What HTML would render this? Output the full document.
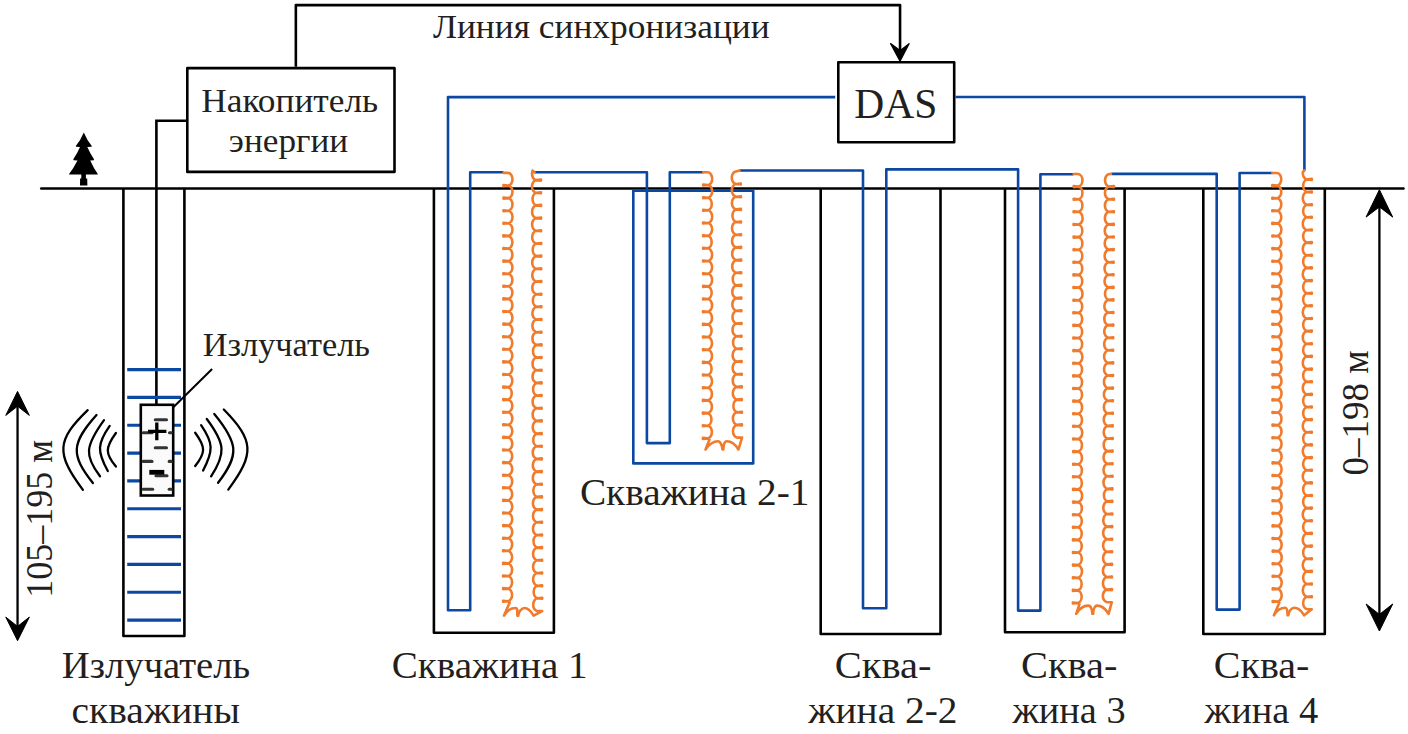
<!DOCTYPE html>
<html><head><meta charset="utf-8"><style>
html,body{margin:0;padding:0;background:#fff;width:1408px;height:734px;overflow:hidden}
svg{display:block}
text{font-family:"Liberation Serif",serif}
</style></head><body>
<svg width="1408" height="734" viewBox="0 0 1408 734">
<path d="M41.2 188.4 H1403.5" stroke="#000" stroke-width="2.5" stroke-linecap="round" fill="none"/>
<path d="M83.8 132.4 Q86.9 139.9 91.8 146.1 L91.6 146.8 L87.3 147 Q90.2 153.6 94 159.2 L93.8 160.2 L90.2 160.5 Q93.5 167.8 97.8 174 L97.6 174.6 L85.9 174.6 L85.9 178.6 L87.2 178.6 L87.4 185.4 L80 185.4 L80.1 178.6 L81.3 178.6 L81.3 174.6 L69.2 174.6 L69.1 174 Q73.8 167.8 77.5 160.5 L73.5 160.2 L73.3 159.2 Q77.2 153.6 80 147 L76 146.8 L75.8 146.1 Q80.7 139.9 83.8 132.4 Z" fill="#000"/>
<path d="M123.4 188.4 V636.0 H184.4 V188.4" stroke="#000" stroke-width="2.6" fill="none" stroke-linejoin="round"/>
<path d="M433.9 188.4 V632.8 H553.9 V188.4" stroke="#000" stroke-width="2.6" fill="none" stroke-linejoin="round"/>
<path d="M820.7 188.4 V634.0 H940.5 V188.4" stroke="#000" stroke-width="2.6" fill="none" stroke-linejoin="round"/>
<path d="M1005.0 188.4 V632.2 H1124.6 V188.4" stroke="#000" stroke-width="2.6" fill="none" stroke-linejoin="round"/>
<path d="M1203.3 188.4 V634.0 H1324.8 V188.4" stroke="#000" stroke-width="2.6" fill="none" stroke-linejoin="round"/>
<rect x="187.3" y="68.1" width="207.2" height="103.8" stroke="#000" stroke-width="2.6" fill="#fff" stroke-linejoin="round"/>
<rect x="838.3" y="62.2" width="115.9" height="80.1" stroke="#000" stroke-width="2.6" fill="#fff" stroke-linejoin="round"/>
<path d="M295.85 66.8 V5.1 H900.05 V52" stroke="#000" stroke-width="2.6" fill="none" stroke-linejoin="round"/>
<path d="M900.05 61.1 L890.6 43.6 L900.05 50.6 L909.1 43.6 Z" fill="#000" stroke="#000" stroke-width="1.2" stroke-linejoin="round"/>
<path d="M186.4 120.8 H156.4 V404.4" stroke="#000" stroke-width="2.6" fill="none"/>
<path d="M127.2 369.60 H181" stroke="#0c48a2" stroke-width="3.2"/>
<path d="M127.2 397.43 H181" stroke="#0c48a2" stroke-width="3.2"/>
<path d="M127.2 425.26 H181" stroke="#0c48a2" stroke-width="3.2"/>
<path d="M127.2 453.09 H181" stroke="#0c48a2" stroke-width="3.2"/>
<path d="M127.2 480.92 H181" stroke="#0c48a2" stroke-width="3.2"/>
<path d="M127.2 508.75 H181" stroke="#0c48a2" stroke-width="3.2"/>
<path d="M127.2 536.58 H181" stroke="#0c48a2" stroke-width="3.2"/>
<path d="M127.2 564.41 H181" stroke="#0c48a2" stroke-width="3.2"/>
<path d="M127.2 592.24 H181" stroke="#0c48a2" stroke-width="3.2"/>
<path d="M127.2 620.07 H181" stroke="#0c48a2" stroke-width="3.2"/>
<rect x="140.8" y="404.8" width="32.4" height="90.7" stroke="#000" stroke-width="2.6" fill="#fafafa"/>
<path d="M155.3 419.8 H166.5" stroke="#333" stroke-width="3.1" stroke-linecap="round"/>
<path d="M155.3 447.7 H166.5" stroke="#333" stroke-width="3.1" stroke-linecap="round"/>
<path d="M143.2 461.4 H152" stroke="#333" stroke-width="3.1" stroke-linecap="round"/>
<path d="M169.2 461.4 H171.2" stroke="#333" stroke-width="3.1" stroke-linecap="round"/>
<path d="M143.2 489.3 H152.7" stroke="#333" stroke-width="3.1" stroke-linecap="round"/>
<path d="M169.2 489.3 H171.2" stroke="#333" stroke-width="3.1" stroke-linecap="round"/>
<path d="M143.2 432.7 H152" stroke="#333" stroke-width="3.1" stroke-linecap="round"/>
<path d="M169.5 432.7 H171.2" stroke="#333" stroke-width="3.1" stroke-linecap="round"/>
<path d="M156 475.7 H167" stroke="#333" stroke-width="3.1" stroke-linecap="round"/>
<path d="M148 431.4 H166.4 M156.8 422.5 V440.2" stroke="#000" stroke-width="3.3"/>
<path d="M149.3 472.3 H164.3" stroke="#000" stroke-width="4.8"/>
<path d="M173.6 407 L212.1 369" stroke="#000" stroke-width="2"/>
<path d="M87.7 410.2 C56.50 440.27 55.70 453.56 82.9 489.9" stroke="#000" stroke-width="2.3" fill="none" stroke-linecap="round"/>
<path d="M96.5 415 C71.13 443.33 70.53 454.67 92.9 483" stroke="#000" stroke-width="2.3" fill="none" stroke-linecap="round"/>
<path d="M104 420.2 C85.00 446.44 84.33 455.79 100 476.3" stroke="#000" stroke-width="2.3" fill="none" stroke-linecap="round"/>
<path d="M109.7 425.9 C97.24 443.69 96.92 451.21 107.8 471" stroke="#000" stroke-width="2.3" fill="none" stroke-linecap="round"/>
<path d="M115.9 433 C105.10 447.82 105.10 453.41 115.9 466.5" stroke="#000" stroke-width="2.3" fill="none" stroke-linecap="round"/>
<path d="M195.2 432.7 C205.73 447.04 205.73 452.59 195.2 466" stroke="#000" stroke-width="2.3" fill="none" stroke-linecap="round"/>
<path d="M201.1 425.2 C213.27 442.94 213.60 450.49 203.1 470.5" stroke="#000" stroke-width="2.3" fill="none" stroke-linecap="round"/>
<path d="M206.8 419 C225.32 443.74 226.04 453.29 211.1 476.3" stroke="#000" stroke-width="2.3" fill="none" stroke-linecap="round"/>
<path d="M214.3 413.9 C238.68 443.48 239.32 454.96 218.1 482.8" stroke="#000" stroke-width="2.3" fill="none" stroke-linecap="round"/>
<path d="M223.8 409.5 C254.14 440.41 254.89 453.76 228.3 489.6" stroke="#000" stroke-width="2.3" fill="none" stroke-linecap="round"/>
<path d="M17.55 405.2 V627.4000000000001" stroke="#000" stroke-width="2.3"/><path d="M17.55 391.4 L29.35 415.4 L17.55 406.2 L5.75 415.4 Z" fill="#000" stroke="#000" stroke-width="1" stroke-linejoin="round"/><path d="M17.55 640.7 L29.35 617.1 L17.55 626.4000000000001 L5.75 617.1 Z" fill="#000" stroke="#000" stroke-width="1" stroke-linejoin="round"/>
<path d="M1379.4 205.89999999999998 V615.4" stroke="#000" stroke-width="2.3"/><path d="M1379.4 189.7 L1392.7 217.1 L1379.4 206.89999999999998 L1366.1000000000001 217.1 Z" fill="#000" stroke="#000" stroke-width="1" stroke-linejoin="round"/><path d="M1379.4 631.0 L1392.7 604.0 L1379.4 614.4 L1366.1000000000001 604.0 Z" fill="#000" stroke="#000" stroke-width="1" stroke-linejoin="round"/>
<path d="M633.3 190.6 V463.4 H753.2 V190.6 Z" stroke="#0c48a2" stroke-width="2.6" fill="none" stroke-linejoin="round"/>
<path d="M835.2 97.1 H448 V610.2 H470.2 V172.3 H503.5 M534.5 172.3 H646.9 V443.1 H669.8 V172.2 H703.5 M739.5 170.5 H863 V608.2 H886.3 V169.4 H1018.1 V610.6 H1040.4 V174.2 H1073.5 M1111.5 173.9 H1216.7 V609.6 H1239.6 V173 H1272.5 M1304.4 170.4 V97 H955.4" stroke="#0c48a2" stroke-width="2.6" fill="none" stroke-linejoin="round"/>
<path d="M503.5 172.9 L507.9 172.9 A4.6 6.30 0 0 1 507.9 185.5 L503.5 185.0 L503.5 186.0 L507.9 185.5 A4.6 6.30 0 0 1 507.9 198.1 L503.5 197.6 L503.5 198.6 L507.9 198.1 A4.6 6.30 0 0 1 507.9 210.7 L503.5 210.2 L503.5 211.2 L507.9 210.7 A4.6 6.30 0 0 1 507.9 223.3 L503.5 222.8 L503.5 223.8 L507.9 223.3 A4.6 6.30 0 0 1 507.8 235.9 L503.4 235.4 L503.4 236.4 L507.8 235.9 A4.6 6.30 0 0 1 507.8 248.5 L503.4 248.0 L503.4 249.0 L507.8 248.5 A4.6 6.30 0 0 1 507.8 261.1 L503.4 260.6 L503.4 261.6 L507.8 261.1 A4.6 6.30 0 0 1 507.8 273.7 L503.4 273.2 L503.4 274.2 L507.8 273.7 A4.6 6.30 0 0 1 507.8 286.3 L503.4 285.8 L503.4 286.8 L507.8 286.3 A4.6 6.30 0 0 1 507.8 298.9 L503.4 298.4 L503.4 299.4 L507.8 298.9 A4.6 6.30 0 0 1 507.8 311.5 L503.4 311.0 L503.4 312.0 L507.8 311.5 A4.6 6.30 0 0 1 507.8 324.1 L503.4 323.6 L503.4 324.6 L507.8 324.1 A4.6 6.30 0 0 1 507.7 336.7 L503.3 336.2 L503.3 337.2 L507.7 336.7 A4.6 6.30 0 0 1 507.7 349.3 L503.3 348.8 L503.3 349.8 L507.7 349.3 A4.6 6.30 0 0 1 507.7 361.9 L503.3 361.4 L503.3 362.4 L507.7 361.9 A4.6 6.30 0 0 1 507.7 374.5 L503.3 374.0 L503.3 375.0 L507.7 374.5 A4.6 6.30 0 0 1 507.7 387.1 L503.3 386.6 L503.3 387.6 L507.7 387.1 A4.6 6.30 0 0 1 507.7 399.6 L503.3 399.1 L503.3 400.1 L507.7 399.6 A4.6 6.30 0 0 1 507.7 412.2 L503.3 411.7 L503.3 412.7 L507.7 412.2 A4.6 6.30 0 0 1 507.7 424.8 L503.3 424.3 L503.3 425.3 L507.7 424.8 A4.6 6.30 0 0 1 507.7 437.4 L503.3 436.9 L503.3 437.9 L507.7 437.4 A4.6 6.30 0 0 1 507.6 450.0 L503.2 449.5 L503.2 450.5 L507.6 450.0 A4.6 6.30 0 0 1 507.6 462.6 L503.2 462.1 L503.2 463.1 L507.6 462.6 A4.6 6.30 0 0 1 507.6 475.2 L503.2 474.7 L503.2 475.7 L507.6 475.2 A4.6 6.30 0 0 1 507.6 487.8 L503.2 487.3 L503.2 488.3 L507.6 487.8 A4.6 6.30 0 0 1 507.6 500.4 L503.2 499.9 L503.2 500.9 L507.6 500.4 A4.6 6.30 0 0 1 507.6 513.0 L503.2 512.5 L503.2 513.5 L507.6 513.0 A4.6 6.30 0 0 1 507.6 525.6 L503.2 525.1 L503.2 526.1 L507.6 525.6 A4.6 6.30 0 0 1 507.6 538.2 L503.2 537.7 L503.2 538.7 L507.6 538.2 A4.6 6.30 0 0 1 507.5 550.8 L503.1 550.3 L503.1 551.3 L507.5 550.8 A4.6 6.30 0 0 1 507.5 563.4 L503.1 562.9 L503.1 563.9 L507.5 563.4 A4.6 6.30 0 0 1 507.5 576.0 L503.1 575.5 L503.1 576.5 L507.5 576.0 A4.6 6.30 0 0 1 507.5 588.6 L503.1 588.1 L503.1 589.1 L507.5 588.6 A4.6 6.30 0 0 1 507.5 601.2 L503.1 600.7 L503.1 601.7 L507.5 601.2 L509.7 602.4 L504.0 615.6 C507.0 610.6 511.5 608.0 515.5 608.0 C518.0 608.0 517.1 611.6 517.4 615.6 L518.2 615.6 C518.3 611.6 521.9 608.0 524.4 608.0 C528.4 608.0 530.6 610.6 533.6 615.6 L542.2 611.0 L537.8 611.0 A4.6 6.34 0 0 1 537.8 598.3 L542.2 597.8 L542.2 598.8 L537.8 598.3 A4.6 6.34 0 0 1 537.7 585.7 L542.1 585.2 L542.1 586.2 L537.7 585.7 A4.6 6.34 0 0 1 537.7 573.0 L542.1 572.5 L542.1 573.5 L537.7 573.0 A4.6 6.34 0 0 1 537.7 560.3 L542.1 559.8 L542.1 560.8 L537.7 560.3 A4.6 6.34 0 0 1 537.6 547.6 L542.0 547.1 L542.0 548.1 L537.6 547.6 A4.6 6.34 0 0 1 537.6 535.0 L542.0 534.5 L542.0 535.5 L537.6 535.0 A4.6 6.34 0 0 1 537.6 522.3 L542.0 521.8 L542.0 522.8 L537.6 522.3 A4.6 6.34 0 0 1 537.5 509.6 L541.9 509.1 L541.9 510.1 L537.5 509.6 A4.6 6.34 0 0 1 537.5 496.9 L541.9 496.4 L541.9 497.4 L537.5 496.9 A4.6 6.34 0 0 1 537.4 484.3 L541.8 483.8 L541.8 484.8 L537.4 484.3 A4.6 6.34 0 0 1 537.4 471.6 L541.8 471.1 L541.8 472.1 L537.4 471.6 A4.6 6.34 0 0 1 537.4 458.9 L541.8 458.4 L541.8 459.4 L537.4 458.9 A4.6 6.34 0 0 1 537.3 446.2 L541.7 445.7 L541.7 446.7 L537.3 446.2 A4.6 6.34 0 0 1 537.3 433.6 L541.7 433.1 L541.7 434.1 L537.3 433.6 A4.6 6.34 0 0 1 537.3 420.9 L541.7 420.4 L541.7 421.4 L537.3 420.9 A4.6 6.34 0 0 1 537.2 408.2 L541.6 407.7 L541.6 408.7 L537.2 408.2 A4.6 6.34 0 0 1 537.2 395.5 L541.6 395.0 L541.6 396.0 L537.2 395.5 A4.6 6.34 0 0 1 537.2 382.9 L541.6 382.4 L541.6 383.4 L537.2 382.9 A4.6 6.34 0 0 1 537.1 370.2 L541.5 369.7 L541.5 370.7 L537.1 370.2 A4.6 6.34 0 0 1 537.1 357.5 L541.5 357.0 L541.5 358.0 L537.1 357.5 A4.6 6.34 0 0 1 537.1 344.9 L541.5 344.4 L541.5 345.4 L537.1 344.9 A4.6 6.34 0 0 1 537.0 332.2 L541.4 331.7 L541.4 332.7 L537.0 332.2 A4.6 6.34 0 0 1 537.0 319.5 L541.4 319.0 L541.4 320.0 L537.0 319.5 A4.6 6.34 0 0 1 537.0 306.8 L541.4 306.3 L541.4 307.3 L537.0 306.8 A4.6 6.34 0 0 1 536.9 294.2 L541.3 293.7 L541.3 294.7 L536.9 294.2 A4.6 6.34 0 0 1 536.9 281.5 L541.3 281.0 L541.3 282.0 L536.9 281.5 A4.6 6.34 0 0 1 536.8 268.8 L541.2 268.3 L541.2 269.3 L536.8 268.8 A4.6 6.34 0 0 1 536.8 256.1 L541.2 255.6 L541.2 256.6 L536.8 256.1 A4.6 6.34 0 0 1 536.8 243.5 L541.2 243.0 L541.2 244.0 L536.8 243.5 A4.6 6.34 0 0 1 536.7 230.8 L541.1 230.3 L541.1 231.3 L536.7 230.8 A4.6 6.34 0 0 1 536.7 218.1 L541.1 217.6 L541.1 218.6 L536.7 218.1 A4.6 6.34 0 0 1 536.7 205.4 L541.1 204.9 L541.1 205.9 L536.7 205.4 A4.6 6.34 0 0 1 536.6 192.8 L541.0 192.3 L541.0 193.3 L536.6 192.8 A4.6 6.34 0 0 1 536.6 180.1 L541.0 179.6 L541.0 180.6 L536.6 180.1 L535.4 179.9 L534.3 179.3 L533.3 178.2 L532.6 176.9 L532.2 175.4 L532.0 173.8 L532.2 172.1 L532.6 170.6 L534.5 172.3" stroke="#f07b2c" stroke-width="2.6" fill="none" stroke-linejoin="round" stroke-linecap="round"/>
<path d="M703.2 172.3 L707.6 172.3 A4.6 6.33 0 0 1 707.6 185.0 L703.2 184.5 L703.2 185.5 L707.6 185.0 A4.6 6.33 0 0 1 707.6 197.7 L703.2 197.2 L703.2 198.2 L707.6 197.7 A4.6 6.33 0 0 1 707.6 210.3 L703.2 209.8 L703.2 210.8 L707.6 210.3 A4.6 6.33 0 0 1 707.5 223.0 L703.1 222.5 L703.1 223.5 L707.5 223.0 A4.6 6.33 0 0 1 707.5 235.7 L703.1 235.2 L703.1 236.2 L707.5 235.7 A4.6 6.33 0 0 1 707.5 248.3 L703.1 247.8 L703.1 248.8 L707.5 248.3 A4.6 6.33 0 0 1 707.5 261.0 L703.1 260.5 L703.1 261.5 L707.5 261.0 A4.6 6.33 0 0 1 707.5 273.7 L703.1 273.2 L703.1 274.2 L707.5 273.7 A4.6 6.33 0 0 1 707.5 286.4 L703.1 285.9 L703.1 286.9 L707.5 286.4 A4.6 6.33 0 0 1 707.5 299.0 L703.1 298.5 L703.1 299.5 L707.5 299.0 A4.6 6.33 0 0 1 707.4 311.7 L703.0 311.2 L703.0 312.2 L707.4 311.7 A4.6 6.33 0 0 1 707.4 324.4 L703.0 323.9 L703.0 324.9 L707.4 324.4 A4.6 6.33 0 0 1 707.4 337.0 L703.0 336.5 L703.0 337.5 L707.4 337.0 A4.6 6.33 0 0 1 707.4 349.7 L703.0 349.2 L703.0 350.2 L707.4 349.7 A4.6 6.33 0 0 1 707.4 362.4 L703.0 361.9 L703.0 362.9 L707.4 362.4 A4.6 6.33 0 0 1 707.4 375.0 L703.0 374.5 L703.0 375.5 L707.4 375.0 A4.6 6.33 0 0 1 707.4 387.7 L703.0 387.2 L703.0 388.2 L707.4 387.7 A4.6 6.33 0 0 1 707.3 400.4 L702.9 399.9 L702.9 400.9 L707.3 400.4 A4.6 6.33 0 0 1 707.3 413.1 L702.9 412.6 L702.9 413.6 L707.3 413.1 A4.6 6.33 0 0 1 707.3 425.7 L702.9 425.2 L702.9 426.2 L707.3 425.7 A4.6 6.33 0 0 1 707.3 438.4 L702.9 437.9 L702.9 438.9 L707.3 438.4 L709.5 439.6 L705.5 449.5 C708.5 444.5 713.9 441.2 717.9 441.2 C720.4 441.2 722.2 445.5 722.5 449.5 L723.3 449.5 C723.4 445.5 724.4 441.2 726.9 441.2 C730.9 441.2 735.5 444.5 738.5 449.5 L742.0 437.6 L737.6 437.6 A4.6 6.34 0 0 1 737.5 424.9 L741.9 424.4 L741.9 425.4 L737.5 424.9 A4.6 6.34 0 0 1 737.5 412.2 L741.9 411.7 L741.9 412.7 L737.5 412.2 A4.6 6.34 0 0 1 737.4 399.6 L741.8 399.1 L741.8 400.1 L737.4 399.6 A4.6 6.34 0 0 1 737.4 386.9 L741.8 386.4 L741.8 387.4 L737.4 386.9 A4.6 6.34 0 0 1 737.3 374.2 L741.7 373.7 L741.7 374.7 L737.3 374.2 A4.6 6.34 0 0 1 737.2 361.5 L741.6 361.0 L741.6 362.0 L737.2 361.5 A4.6 6.34 0 0 1 737.2 348.8 L741.6 348.3 L741.6 349.3 L737.2 348.8 A4.6 6.34 0 0 1 737.1 336.2 L741.5 335.7 L741.5 336.7 L737.1 336.2 A4.6 6.34 0 0 1 737.1 323.5 L741.5 323.0 L741.5 324.0 L737.1 323.5 A4.6 6.34 0 0 1 737.0 310.8 L741.4 310.3 L741.4 311.3 L737.0 310.8 A4.6 6.34 0 0 1 736.9 298.1 L741.3 297.6 L741.3 298.6 L736.9 298.1 A4.6 6.34 0 0 1 736.9 285.4 L741.3 284.9 L741.3 285.9 L736.9 285.4 A4.6 6.34 0 0 1 736.8 272.8 L741.2 272.3 L741.2 273.3 L736.8 272.8 A4.6 6.34 0 0 1 736.8 260.1 L741.2 259.6 L741.2 260.6 L736.8 260.1 A4.6 6.34 0 0 1 736.7 247.4 L741.1 246.9 L741.1 247.9 L736.7 247.4 A4.6 6.34 0 0 1 736.6 234.7 L741.0 234.2 L741.0 235.2 L736.6 234.7 A4.6 6.34 0 0 1 736.6 222.0 L741.0 221.5 L741.0 222.5 L736.6 222.0 A4.6 6.34 0 0 1 736.5 209.4 L740.9 208.9 L740.9 209.9 L736.5 209.4 A4.6 6.34 0 0 1 736.5 196.7 L740.9 196.2 L740.9 197.2 L736.5 196.7 A4.6 6.34 0 0 1 736.4 184.0 L740.8 183.5 L740.8 184.5 L736.4 184.0 L734.9 183.6 L733.5 182.6 L732.5 181.1 L731.9 179.1 L731.8 177.0 L732.2 175.0 L733.1 173.3 L734.3 172.0 L739.5 170.5" stroke="#f07b2c" stroke-width="2.6" fill="none" stroke-linejoin="round" stroke-linecap="round"/>
<path d="M1073.7 174.0 L1078.1 174.0 A4.6 6.31 0 0 1 1078.1 186.6 L1073.7 186.1 L1073.7 187.1 L1078.1 186.6 A4.6 6.31 0 0 1 1078.1 199.2 L1073.7 198.7 L1073.7 199.7 L1078.1 199.2 A4.6 6.31 0 0 1 1078.0 211.8 L1073.6 211.3 L1073.6 212.3 L1078.0 211.8 A4.6 6.31 0 0 1 1078.0 224.5 L1073.6 224.0 L1073.6 225.0 L1078.0 224.5 A4.6 6.31 0 0 1 1078.0 237.1 L1073.6 236.6 L1073.6 237.6 L1078.0 237.1 A4.6 6.31 0 0 1 1078.0 249.7 L1073.6 249.2 L1073.6 250.2 L1078.0 249.7 A4.6 6.31 0 0 1 1077.9 262.3 L1073.5 261.8 L1073.5 262.8 L1077.9 262.3 A4.6 6.31 0 0 1 1077.9 274.9 L1073.5 274.4 L1073.5 275.4 L1077.9 274.9 A4.6 6.31 0 0 1 1077.9 287.5 L1073.5 287.0 L1073.5 288.0 L1077.9 287.5 A4.6 6.31 0 0 1 1077.9 300.2 L1073.5 299.7 L1073.5 300.7 L1077.9 300.2 A4.6 6.31 0 0 1 1077.8 312.8 L1073.4 312.3 L1073.4 313.3 L1077.8 312.8 A4.6 6.31 0 0 1 1077.8 325.4 L1073.4 324.9 L1073.4 325.9 L1077.8 325.4 A4.6 6.31 0 0 1 1077.8 338.0 L1073.4 337.5 L1073.4 338.5 L1077.8 338.0 A4.6 6.31 0 0 1 1077.8 350.6 L1073.4 350.1 L1073.4 351.1 L1077.8 350.6 A4.6 6.31 0 0 1 1077.7 363.3 L1073.3 362.8 L1073.3 363.8 L1077.7 363.3 A4.6 6.31 0 0 1 1077.7 375.9 L1073.3 375.4 L1073.3 376.4 L1077.7 375.9 A4.6 6.31 0 0 1 1077.7 388.5 L1073.3 388.0 L1073.3 389.0 L1077.7 388.5 A4.6 6.31 0 0 1 1077.7 401.1 L1073.3 400.6 L1073.3 401.6 L1077.7 401.1 A4.6 6.31 0 0 1 1077.7 413.7 L1073.3 413.2 L1073.3 414.2 L1077.7 413.7 A4.6 6.31 0 0 1 1077.6 426.3 L1073.2 425.8 L1073.2 426.8 L1077.6 426.3 A4.6 6.31 0 0 1 1077.6 439.0 L1073.2 438.5 L1073.2 439.5 L1077.6 439.0 A4.6 6.31 0 0 1 1077.6 451.6 L1073.2 451.1 L1073.2 452.1 L1077.6 451.6 A4.6 6.31 0 0 1 1077.6 464.2 L1073.2 463.7 L1073.2 464.7 L1077.6 464.2 A4.6 6.31 0 0 1 1077.5 476.8 L1073.1 476.3 L1073.1 477.3 L1077.5 476.8 A4.6 6.31 0 0 1 1077.5 489.4 L1073.1 488.9 L1073.1 489.9 L1077.5 489.4 A4.6 6.31 0 0 1 1077.5 502.1 L1073.1 501.6 L1073.1 502.6 L1077.5 502.1 A4.6 6.31 0 0 1 1077.5 514.7 L1073.1 514.2 L1073.1 515.2 L1077.5 514.7 A4.6 6.31 0 0 1 1077.4 527.3 L1073.0 526.8 L1073.0 527.8 L1077.4 527.3 A4.6 6.31 0 0 1 1077.4 539.9 L1073.0 539.4 L1073.0 540.4 L1077.4 539.9 A4.6 6.31 0 0 1 1077.4 552.5 L1073.0 552.0 L1073.0 553.0 L1077.4 552.5 A4.6 6.31 0 0 1 1077.4 565.1 L1073.0 564.6 L1073.0 565.6 L1077.4 565.1 A4.6 6.31 0 0 1 1077.3 577.8 L1072.9 577.3 L1072.9 578.3 L1077.3 577.8 A4.6 6.31 0 0 1 1077.3 590.4 L1072.9 589.9 L1072.9 590.9 L1077.3 590.4 A4.6 6.31 0 0 1 1077.3 603.0 L1072.9 602.5 L1072.9 603.5 L1077.3 603.0 L1079.5 604.2 L1076.2 613.8 C1079.2 608.8 1084.2 605.6 1088.2 605.6 C1090.7 605.6 1092.1 609.8 1092.4 613.8 L1093.2 613.8 C1093.3 609.8 1094.7 605.6 1097.2 605.6 C1101.2 605.6 1105.6 608.8 1108.6 613.8 L1111.8 602.2 L1107.4 602.2 A4.6 6.30 0 0 1 1107.5 589.6 L1111.9 589.1 L1111.9 590.1 L1107.5 589.6 A4.6 6.30 0 0 1 1107.5 577.0 L1111.9 576.5 L1111.9 577.5 L1107.5 577.0 A4.6 6.30 0 0 1 1107.6 564.4 L1112.0 563.9 L1112.0 564.9 L1107.6 564.4 A4.6 6.30 0 0 1 1107.7 551.8 L1112.1 551.3 L1112.1 552.3 L1107.7 551.8 A4.6 6.30 0 0 1 1107.7 539.2 L1112.1 538.7 L1112.1 539.7 L1107.7 539.2 A4.6 6.30 0 0 1 1107.8 526.6 L1112.2 526.1 L1112.2 527.1 L1107.8 526.6 A4.6 6.30 0 0 1 1107.9 514.0 L1112.3 513.5 L1112.3 514.5 L1107.9 514.0 A4.6 6.30 0 0 1 1107.9 501.4 L1112.3 500.9 L1112.3 501.9 L1107.9 501.4 A4.6 6.30 0 0 1 1108.0 488.9 L1112.4 488.4 L1112.4 489.4 L1108.0 488.9 A4.6 6.30 0 0 1 1108.1 476.3 L1112.5 475.8 L1112.5 476.8 L1108.1 476.3 A4.6 6.30 0 0 1 1108.1 463.7 L1112.5 463.2 L1112.5 464.2 L1108.1 463.7 A4.6 6.30 0 0 1 1108.2 451.1 L1112.6 450.6 L1112.6 451.6 L1108.2 451.1 A4.6 6.30 0 0 1 1108.3 438.5 L1112.7 438.0 L1112.7 439.0 L1108.3 438.5 A4.6 6.30 0 0 1 1108.3 425.9 L1112.7 425.4 L1112.7 426.4 L1108.3 425.9 A4.6 6.30 0 0 1 1108.4 413.3 L1112.8 412.8 L1112.8 413.8 L1108.4 413.3 A4.6 6.30 0 0 1 1108.5 400.7 L1112.9 400.2 L1112.9 401.2 L1108.5 400.7 A4.6 6.30 0 0 1 1108.5 388.1 L1112.9 387.6 L1112.9 388.6 L1108.5 388.1 A4.6 6.30 0 0 1 1108.6 375.5 L1113.0 375.0 L1113.0 376.0 L1108.6 375.5 A4.6 6.30 0 0 1 1108.7 362.9 L1113.1 362.4 L1113.1 363.4 L1108.7 362.9 A4.6 6.30 0 0 1 1108.7 350.3 L1113.1 349.8 L1113.1 350.8 L1108.7 350.3 A4.6 6.30 0 0 1 1108.8 337.7 L1113.2 337.2 L1113.2 338.2 L1108.8 337.7 A4.6 6.30 0 0 1 1108.9 325.1 L1113.3 324.6 L1113.3 325.6 L1108.9 325.1 A4.6 6.30 0 0 1 1108.9 312.5 L1113.3 312.0 L1113.3 313.0 L1108.9 312.5 A4.6 6.30 0 0 1 1109.0 299.9 L1113.4 299.4 L1113.4 300.4 L1109.0 299.9 A4.6 6.30 0 0 1 1109.1 287.4 L1113.5 286.9 L1113.5 287.9 L1109.1 287.4 A4.6 6.30 0 0 1 1109.1 274.8 L1113.5 274.3 L1113.5 275.3 L1109.1 274.8 A4.6 6.30 0 0 1 1109.2 262.2 L1113.6 261.7 L1113.6 262.7 L1109.2 262.2 A4.6 6.30 0 0 1 1109.3 249.6 L1113.7 249.1 L1113.7 250.1 L1109.3 249.6 A4.6 6.30 0 0 1 1109.3 237.0 L1113.7 236.5 L1113.7 237.5 L1109.3 237.0 A4.6 6.30 0 0 1 1109.4 224.4 L1113.8 223.9 L1113.8 224.9 L1109.4 224.4 A4.6 6.30 0 0 1 1109.5 211.8 L1113.9 211.3 L1113.9 212.3 L1109.5 211.8 A4.6 6.30 0 0 1 1109.5 199.2 L1113.9 198.7 L1113.9 199.7 L1109.5 199.2 A4.6 6.30 0 0 1 1109.6 186.6 L1114.0 186.1 L1114.0 187.1 L1109.6 186.6 L1107.8 186.1 L1106.3 184.8 L1105.4 182.7 L1105.0 180.3 L1105.4 177.9 L1106.3 175.9 L1107.8 174.5 L1109.6 174.0 L1111.0 173.9" stroke="#f07b2c" stroke-width="2.6" fill="none" stroke-linejoin="round" stroke-linecap="round"/>
<path d="M1272.3 173.0 L1276.7 173.0 A4.6 6.30 0 0 1 1276.7 185.6 L1272.3 185.1 L1272.3 186.1 L1276.7 185.6 A4.6 6.30 0 0 1 1276.7 198.2 L1272.3 197.7 L1272.3 198.7 L1276.7 198.2 A4.6 6.30 0 0 1 1276.7 210.8 L1272.3 210.3 L1272.3 211.3 L1276.7 210.8 A4.6 6.30 0 0 1 1276.7 223.4 L1272.3 222.9 L1272.3 223.9 L1276.7 223.4 A4.6 6.30 0 0 1 1276.8 236.0 L1272.4 235.5 L1272.4 236.5 L1276.8 236.0 A4.6 6.30 0 0 1 1276.8 248.6 L1272.4 248.1 L1272.4 249.1 L1276.8 248.6 A4.6 6.30 0 0 1 1276.8 261.2 L1272.4 260.7 L1272.4 261.7 L1276.8 261.2 A4.6 6.30 0 0 1 1276.8 273.8 L1272.4 273.3 L1272.4 274.3 L1276.8 273.8 A4.6 6.30 0 0 1 1276.8 286.4 L1272.4 285.9 L1272.4 286.9 L1276.8 286.4 A4.6 6.30 0 0 1 1276.8 299.0 L1272.4 298.5 L1272.4 299.5 L1276.8 299.0 A4.6 6.30 0 0 1 1276.8 311.6 L1272.4 311.1 L1272.4 312.1 L1276.8 311.6 A4.6 6.30 0 0 1 1276.8 324.2 L1272.4 323.7 L1272.4 324.7 L1276.8 324.2 A4.6 6.30 0 0 1 1276.9 336.8 L1272.5 336.3 L1272.5 337.3 L1276.9 336.8 A4.6 6.30 0 0 1 1276.9 349.4 L1272.5 348.9 L1272.5 349.9 L1276.9 349.4 A4.6 6.30 0 0 1 1276.9 362.0 L1272.5 361.5 L1272.5 362.5 L1276.9 362.0 A4.6 6.30 0 0 1 1276.9 374.6 L1272.5 374.1 L1272.5 375.1 L1276.9 374.6 A4.6 6.30 0 0 1 1276.9 387.2 L1272.5 386.7 L1272.5 387.7 L1276.9 387.2 A4.6 6.30 0 0 1 1276.9 399.9 L1272.5 399.4 L1272.5 400.4 L1276.9 399.9 A4.6 6.30 0 0 1 1276.9 412.5 L1272.5 412.0 L1272.5 413.0 L1276.9 412.5 A4.6 6.30 0 0 1 1276.9 425.1 L1272.5 424.6 L1272.5 425.6 L1276.9 425.1 A4.6 6.30 0 0 1 1276.9 437.7 L1272.5 437.2 L1272.5 438.2 L1276.9 437.7 A4.6 6.30 0 0 1 1277.0 450.3 L1272.6 449.8 L1272.6 450.8 L1277.0 450.3 A4.6 6.30 0 0 1 1277.0 462.9 L1272.6 462.4 L1272.6 463.4 L1277.0 462.9 A4.6 6.30 0 0 1 1277.0 475.5 L1272.6 475.0 L1272.6 476.0 L1277.0 475.5 A4.6 6.30 0 0 1 1277.0 488.1 L1272.6 487.6 L1272.6 488.6 L1277.0 488.1 A4.6 6.30 0 0 1 1277.0 500.7 L1272.6 500.2 L1272.6 501.2 L1277.0 500.7 A4.6 6.30 0 0 1 1277.0 513.3 L1272.6 512.8 L1272.6 513.8 L1277.0 513.3 A4.6 6.30 0 0 1 1277.0 525.9 L1272.6 525.4 L1272.6 526.4 L1277.0 525.9 A4.6 6.30 0 0 1 1277.0 538.5 L1272.6 538.0 L1272.6 539.0 L1277.0 538.5 A4.6 6.30 0 0 1 1277.1 551.1 L1272.7 550.6 L1272.7 551.6 L1277.1 551.1 A4.6 6.30 0 0 1 1277.1 563.7 L1272.7 563.2 L1272.7 564.2 L1277.1 563.7 A4.6 6.30 0 0 1 1277.1 576.3 L1272.7 575.8 L1272.7 576.8 L1277.1 576.3 A4.6 6.30 0 0 1 1277.1 588.9 L1272.7 588.4 L1272.7 589.4 L1277.1 588.9 A4.6 6.30 0 0 1 1277.1 601.5 L1272.7 601.0 L1272.7 602.0 L1277.1 601.5 L1279.3 602.7 L1273.9 615.3 C1276.9 610.3 1281.2 607.8 1285.2 607.8 C1287.7 607.8 1287.3 611.3 1287.6 615.3 L1288.4 615.3 C1288.5 611.3 1291.7 607.8 1294.2 607.8 C1298.2 607.8 1301.1 610.3 1304.1 615.3 L1311.8 609.3 L1307.4 609.3 A4.6 6.32 0 0 1 1307.4 596.7 L1311.8 596.2 L1311.8 597.2 L1307.4 596.7 A4.6 6.32 0 0 1 1307.4 584.0 L1311.8 583.5 L1311.8 584.5 L1307.4 584.0 A4.6 6.32 0 0 1 1307.4 571.4 L1311.8 570.9 L1311.8 571.9 L1307.4 571.4 A4.6 6.32 0 0 1 1307.4 558.7 L1311.8 558.2 L1311.8 559.2 L1307.4 558.7 A4.6 6.32 0 0 1 1307.4 546.1 L1311.8 545.6 L1311.8 546.6 L1307.4 546.1 A4.6 6.32 0 0 1 1307.4 533.4 L1311.8 532.9 L1311.8 533.9 L1307.4 533.4 A4.6 6.32 0 0 1 1307.4 520.8 L1311.8 520.3 L1311.8 521.3 L1307.4 520.8 A4.6 6.32 0 0 1 1307.4 508.1 L1311.8 507.6 L1311.8 508.6 L1307.4 508.1 A4.6 6.32 0 0 1 1307.4 495.5 L1311.8 495.0 L1311.8 496.0 L1307.4 495.5 A4.6 6.32 0 0 1 1307.4 482.9 L1311.8 482.4 L1311.8 483.4 L1307.4 482.9 A4.6 6.32 0 0 1 1307.4 470.2 L1311.8 469.7 L1311.8 470.7 L1307.4 470.2 A4.6 6.32 0 0 1 1307.4 457.6 L1311.8 457.1 L1311.8 458.1 L1307.4 457.6 A4.6 6.32 0 0 1 1307.4 444.9 L1311.8 444.4 L1311.8 445.4 L1307.4 444.9 A4.6 6.32 0 0 1 1307.4 432.3 L1311.8 431.8 L1311.8 432.8 L1307.4 432.3 A4.6 6.32 0 0 1 1307.4 419.6 L1311.8 419.1 L1311.8 420.1 L1307.4 419.6 A4.6 6.32 0 0 1 1307.4 407.0 L1311.8 406.5 L1311.8 407.5 L1307.4 407.0 A4.6 6.32 0 0 1 1307.4 394.4 L1311.8 393.9 L1311.8 394.9 L1307.4 394.4 A4.6 6.32 0 0 1 1307.4 381.7 L1311.8 381.2 L1311.8 382.2 L1307.4 381.7 A4.6 6.32 0 0 1 1307.4 369.1 L1311.8 368.6 L1311.8 369.6 L1307.4 369.1 A4.6 6.32 0 0 1 1307.4 356.4 L1311.8 355.9 L1311.8 356.9 L1307.4 356.4 A4.6 6.32 0 0 1 1307.4 343.8 L1311.8 343.3 L1311.8 344.3 L1307.4 343.8 A4.6 6.32 0 0 1 1307.4 331.1 L1311.8 330.6 L1311.8 331.6 L1307.4 331.1 A4.6 6.32 0 0 1 1307.4 318.5 L1311.8 318.0 L1311.8 319.0 L1307.4 318.5 A4.6 6.32 0 0 1 1307.4 305.8 L1311.8 305.3 L1311.8 306.3 L1307.4 305.8 A4.6 6.32 0 0 1 1307.4 293.2 L1311.8 292.7 L1311.8 293.7 L1307.4 293.2 A4.6 6.32 0 0 1 1307.4 280.6 L1311.8 280.1 L1311.8 281.1 L1307.4 280.6 A4.6 6.32 0 0 1 1307.4 267.9 L1311.8 267.4 L1311.8 268.4 L1307.4 267.9 A4.6 6.32 0 0 1 1307.4 255.3 L1311.8 254.8 L1311.8 255.8 L1307.4 255.3 A4.6 6.32 0 0 1 1307.4 242.6 L1311.8 242.1 L1311.8 243.1 L1307.4 242.6 A4.6 6.32 0 0 1 1307.4 230.0 L1311.8 229.5 L1311.8 230.5 L1307.4 230.0 A4.6 6.32 0 0 1 1307.4 217.3 L1311.8 216.8 L1311.8 217.8 L1307.4 217.3 A4.6 6.32 0 0 1 1307.4 204.7 L1311.8 204.2 L1311.8 205.2 L1307.4 204.7 A4.6 6.32 0 0 1 1307.4 192.0 L1311.8 191.5 L1311.8 192.5 L1307.4 192.0 A4.6 6.32 0 0 1 1307.4 179.4 L1311.8 178.9 L1311.8 179.9 L1307.4 179.4 L1306.4 179.3 L1305.5 178.8 L1304.6 178.1 L1303.9 177.1 L1303.3 176.0 L1303.0 174.7 L1302.8 173.4 L1302.9 172.0 L1304.4 170.4" stroke="#f07b2c" stroke-width="2.6" fill="none" stroke-linejoin="round" stroke-linecap="round"/>
<g font-family="Liberation Serif" fill="#231f20"><text x="432.90" y="38.00" font-size="32.8" textLength="336.84" lengthAdjust="spacingAndGlyphs">Линия синхронизации</text>
<text x="201.34" y="112.00" font-size="33.3" textLength="176.84" lengthAdjust="spacingAndGlyphs">Накопитель</text>
<text x="228.83" y="151.90" font-size="33.0" textLength="119.38" lengthAdjust="spacingAndGlyphs">энергии</text>
<text x="854.23" y="118.20" font-size="43.0" textLength="83.03" lengthAdjust="spacingAndGlyphs">DAS</text>
<text x="202.66" y="355.90" font-size="33.0" textLength="167.29" lengthAdjust="spacingAndGlyphs">Излучатель</text>
<text x="579.94" y="504.80" font-size="37.0" textLength="229.42" lengthAdjust="spacingAndGlyphs">Скважина 2-1</text>
<text x="61.88" y="678.00" font-size="37.8" textLength="188.31" lengthAdjust="spacingAndGlyphs">Излучатель</text>
<text x="71.56" y="722.60" font-size="37.8" textLength="168.39" lengthAdjust="spacingAndGlyphs">скважины</text>
<text x="391.77" y="677.80" font-size="37.8" textLength="195.81" lengthAdjust="spacingAndGlyphs">Скважина 1</text>
<text x="834.73" y="678.00" font-size="37.8" textLength="96.79" lengthAdjust="spacingAndGlyphs">Сква-</text>
<text x="808.30" y="722.60" font-size="37.8" textLength="149.14" lengthAdjust="spacingAndGlyphs">жина 2-2</text>
<text x="1020.93" y="678.00" font-size="37.8" textLength="96.59" lengthAdjust="spacingAndGlyphs">Сква-</text>
<text x="1012.40" y="722.60" font-size="37.8" textLength="113.21" lengthAdjust="spacingAndGlyphs">жина 3</text>
<text x="1213.84" y="678.00" font-size="37.8" textLength="95.47" lengthAdjust="spacingAndGlyphs">Сква-</text>
<text x="1204.60" y="722.60" font-size="37.8" textLength="113.70" lengthAdjust="spacingAndGlyphs">жина 4</text>
<text transform="translate(51.80 595.00) rotate(-90)" x="-2.85" y="0" font-size="38.0" textLength="157.96" lengthAdjust="spacingAndGlyphs">105–195 м</text>
<text transform="translate(1368.00 474.60) rotate(-90)" x="-0.97" y="0" font-size="38.0" textLength="125.11" lengthAdjust="spacingAndGlyphs">0–198 м</text></g>
</svg>
</body></html>
